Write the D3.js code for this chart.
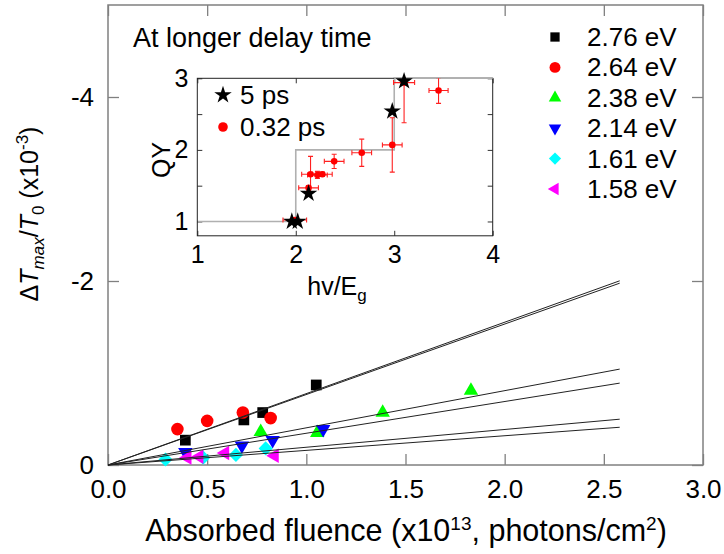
<!DOCTYPE html>
<html><head><meta charset="utf-8">
<script src="https://cdn.jsdelivr.net/npm/d3@7"></script>
<style>
body{margin:0;background:#fff}
svg{display:block}
text{font-family:"Liberation Sans",Arial,Helvetica,sans-serif;fill:#000}
</style>
</head><body>
<svg id="c" width="724" height="554"></svg>
<script>
// ---------- main chart data ----------
const seriesLabels = ["2.76 eV","2.64 eV","2.38 eV","2.14 eV","1.61 eV","1.58 eV"];
const fluence276 = [0.39, 0.685, 0.78, 1.05];
const signal276  = [-0.27, -0.49, -0.57, -0.87];
const fluence264 = [0.35, 0.50, 0.68, 0.82];
const signal264  = [-0.39, -0.48, -0.57, -0.51];
const fluence238 = [0.77, 1.055, 1.385, 1.83];
const signal238  = [-0.36, -0.35, -0.57, -0.81];
const fluence214 = [0.39, 0.675, 0.83, 1.085];
const signal214  = [-0.14, -0.21, -0.27, -0.39];
const fluence161 = [0.29, 0.48, 0.645, 0.795];
const signal161  = [-0.06, -0.08, -0.11, -0.18];
const fluence158 = [0.40, 0.46, 0.59, 0.84];
const signal158  = [-0.08, -0.09, -0.13, -0.10];
const fitSlopes = [-0.776, -0.766, -0.404, -0.345, -0.193, -0.159];
const fitFluenceMax = 2.58;
const xTicks = [0, 0.5, 1, 1.5, 2, 2.5, 3];
const yTicks = [0, -2, -4];

// ---------- inset data ----------
const stepRatio = [1, 2, 2, 3, 3, 4];
const stepQY    = [1, 1, 2, 2, 3, 3];
const ratio5ps  = [1.96, 2.02, 2.13, 2.98, 3.10];
const qy5ps     = [1.00, 1.00, 1.39, 2.54, 2.96];
const ratio032    = [1.99, 2.13, 2.15, 2.22, 2.27, 2.39, 2.67, 2.98, 3.10, 3.45];
const qy032       = [1.02, 1.47, 1.66, 1.65, 1.66, 1.84, 1.96, 2.07, 2.94, 2.83];
const ratioErr032 = [0.12, 0.10, 0.09, 0.10, 0.10, 0.10, 0.10, 0.10, 0.107, 0.097];
const qyErr032    = [0.02, 0.03, 0.25, 0.05, 0.03, 0.10, 0.19, 0.38, 0.56, 0.18];
const insetXTicks = [1, 2, 3, 4];
const insetYTicks = [1, 2, 3];
const insetYMinor = [1, 1.5, 2, 2.5, 3];

// ---------- styles ----------
const seriesColors = ["#000000", "#ff0000", "#00ff00", "#0000ff", "#00ffff", "#ff00ff"];
const FS = 26;

const svg = d3.select("#c");
const x = d3.scaleLinear([0, 3], [108, 703]);
const y = d3.scaleLinear([0, -5], [465, 5]);

const seriesX = [fluence276, fluence264, fluence238, fluence214, fluence161, fluence158];
const seriesY = [signal276, signal264, signal238, signal214, signal161, signal158];

const sym = [
  {type: d3.symbolSquare, size: 115, rot: 0},
  {type: d3.symbolCircle, size: 125, rot: 0},
  {type: d3.symbolTriangle, size: 90, rot: 0},
  {type: d3.symbolTriangle, size: 90, rot: 180},
  {type: d3.symbolSquare, size: 100, rot: 45},
  {type: d3.symbolTriangle, size: 90, rot: -90}
];

const frameColor = "#808080";
function styleAxis(g){
  g.select(".domain").remove();
  g.selectAll(".tick line").attr("stroke", frameColor).attr("stroke-width", 1.3);
  g.selectAll(".tick text").attr("font-size", FS).attr("fill", "#000")
    .attr("font-family", '"Liberation Sans",Arial,sans-serif');
}
svg.append("g").attr("transform", "translate(0,465)")
  .call(d3.axisBottom(x).tickValues(xTicks).tickSize(-11).tickPadding(15).tickFormat(d3.format(".1f")))
  .call(styleAxis);
svg.append("g").attr("transform", "translate(0,5)")
  .call(d3.axisTop(x).tickValues(xTicks).tickSize(-11).tickFormat(""))
  .call(styleAxis);
svg.append("g").attr("transform", "translate(108,0)")
  .call(d3.axisLeft(y).tickValues(yTicks).tickSize(-11).tickPadding(14).tickFormat(d => String(d)))
  .call(styleAxis);
svg.append("g").attr("transform", "translate(703,0)")
  .call(d3.axisRight(y).tickValues(yTicks).tickSize(-11).tickFormat(""))
  .call(styleAxis);

svg.append("rect").attr("x", x(0)).attr("y", y(-5)).attr("width", x(3) - x(0)).attr("height", y(0) - y(-5))
  .attr("fill", "none").attr("stroke", frameColor).attr("stroke-width", 1.5);

seriesX.forEach((xs, i) => {
  const s = sym[i];
  const gen = d3.symbol().type(s.type).size(s.size);
  svg.append("g").selectAll("path").data(xs.map((v, j) => [v, seriesY[i][j]])).join("path")
    .attr("d", gen)
    .attr("transform", d => `translate(${x(d[0])},${y(d[1])}) rotate(${s.rot})`)
    .attr("fill", seriesColors[i]);
});

svg.append("g").selectAll("line").data(fitSlopes).join("line")
  .attr("x1", x(0)).attr("y1", y(0))
  .attr("x2", x(fitFluenceMax)).attr("y2", d => y(d * fitFluenceMax))
  .attr("stroke", "#222").attr("stroke-width", 1);

seriesLabels.forEach((lab, i) => {
  const yy = 37 + i * 30.4;
  const s = sym[i];
  svg.append("path").attr("d", d3.symbol().type(s.type).size(s.size * 0.75)())
    .attr("transform", `translate(555,${yy}) rotate(${s.rot})`).attr("fill", seriesColors[i]);
  svg.append("text").attr("x", 587).attr("y", yy + 9).attr("font-size", FS).text(lab);
});

const XFS = 30.5;
const xt = svg.append("text").attr("x", 406).attr("y", 541).attr("text-anchor", "middle").attr("font-size", XFS);
xt.append("tspan").text("Absorbed fluence (x10");
xt.append("tspan").attr("dy", -11).attr("font-size", 19).text("13");
xt.append("tspan").attr("dy", 11).text(", photons/cm");
xt.append("tspan").attr("dy", -11).attr("font-size", 19).text("2");
xt.append("tspan").attr("dy", 11).text(")");

const yt = svg.append("text").attr("transform", "translate(38,214) rotate(-90)")
  .attr("text-anchor", "middle").attr("font-size", 25);
yt.append("tspan").text("Δ");
yt.append("tspan").attr("font-style", "italic").text("T");
yt.append("tspan").attr("font-style", "italic").attr("font-size", 17).attr("dy", 6).text("max");
yt.append("tspan").attr("dy", -6).text("/");
yt.append("tspan").attr("font-style", "italic").text("T");
yt.append("tspan").attr("font-size", 17).attr("dy", 6).text("0");
yt.append("tspan").attr("dy", -6).text(" (x10");
yt.append("tspan").attr("font-size", 17).attr("dy", -10).text("-3");
yt.append("tspan").attr("dy", 10).text(")");

svg.append("text").attr("x", 133).attr("y", 47).attr("font-size", 27).text("At longer delay time");

// ---------- inset ----------
const xi = d3.scaleLinear([1, 4], [197.3, 492.7]);
const yi = d3.scaleLinear([0.8, 3], [235.8, 78.3]);
const ins = svg.append("g");
ins.append("rect").attr("x", xi(1)).attr("y", yi(3)).attr("width", xi(4) - xi(1)).attr("height", yi(0.8) - yi(3))
  .attr("fill", "#fff");
ins.append("clipPath").attr("id", "ic").append("rect")
  .attr("x", xi(1)).attr("y", yi(3)).attr("width", xi(4) - xi(1)).attr("height", yi(0.8) - yi(3));

function styleInset(g){
  g.select(".domain").remove();
  g.selectAll(".tick line").attr("stroke", "#333");
  g.selectAll(".tick text").attr("font-size", 25).attr("fill", "#000")
    .attr("font-family", '"Liberation Sans",Arial,sans-serif');
}
ins.append("g").attr("transform", `translate(0,${yi(0.8)})`)
  .call(d3.axisBottom(xi).tickValues(insetXTicks).tickSize(-5).tickPadding(9).tickFormat(d3.format("d")))
  .call(styleInset);
ins.append("g").attr("transform", `translate(0,${yi(3)})`)
  .call(d3.axisTop(xi).tickValues(insetXTicks).tickSize(-5).tickFormat(""))
  .call(styleInset);
ins.append("g").attr("transform", `translate(${xi(1)},0)`)
  .call(d3.axisLeft(yi).tickValues(insetYMinor).tickSize(-5).tickPadding(9)
    .tickFormat(d => insetYTicks.includes(d) ? d3.format("d")(d) : ""))
  .call(styleInset);
ins.append("g").attr("transform", `translate(${xi(4)},0)`)
  .call(d3.axisRight(yi).tickValues(insetYMinor).tickSize(-5).tickFormat(""))
  .call(styleInset);

ins.append("path").datum(stepRatio.map((v, i) => [v, stepQY[i]]))
  .attr("d", d3.line().x(d => xi(d[0])).y(d => yi(d[1])))
  .attr("fill", "none").attr("stroke", "#b0b0b0").attr("stroke-width", 1.6);

ins.append("rect").attr("x", xi(1)).attr("y", yi(3)).attr("width", xi(4) - xi(1)).attr("height", yi(0.8) - yi(3))
  .attr("fill", "none").attr("stroke", "#222").attr("stroke-width", 1);
ins.append("line").attr("x1", xi(3)).attr("x2", xi(4)).attr("y1", yi(3)).attr("y2", yi(3))
  .attr("stroke", "#b0b0b0").attr("stroke-width", 1.6);

const eb = ins.append("g").attr("clip-path", "url(#ic)").attr("stroke", "#ff2020").attr("stroke-width", 1.1);
const pts032 = ratio032.map((v, i) => ({x: v, y: qy032[i], ex: ratioErr032[i], ey: qyErr032[i]}));
pts032.forEach(p => {
  eb.append("line").attr("x1", xi(p.x - p.ex)).attr("x2", xi(p.x + p.ex)).attr("y1", yi(p.y)).attr("y2", yi(p.y));
  eb.append("line").attr("x1", xi(p.x - p.ex)).attr("x2", xi(p.x - p.ex)).attr("y1", yi(p.y) - 2.5).attr("y2", yi(p.y) + 2.5);
  eb.append("line").attr("x1", xi(p.x + p.ex)).attr("x2", xi(p.x + p.ex)).attr("y1", yi(p.y) - 2.5).attr("y2", yi(p.y) + 2.5);
  eb.append("line").attr("x1", xi(p.x)).attr("x2", xi(p.x)).attr("y1", yi(p.y - p.ey)).attr("y2", yi(p.y + p.ey));
  eb.append("line").attr("x1", xi(p.x) - 2.5).attr("x2", xi(p.x) + 2.5).attr("y1", yi(p.y - p.ey)).attr("y2", yi(p.y - p.ey));
  eb.append("line").attr("x1", xi(p.x) - 2.5).attr("x2", xi(p.x) + 2.5).attr("y1", yi(p.y + p.ey)).attr("y2", yi(p.y + p.ey));
});
ins.append("g").selectAll("circle").data(pts032).join("circle")
  .attr("cx", d => xi(d.x)).attr("cy", d => yi(d.y)).attr("r", 3.3).attr("fill", "#ff0000");

const starGen = d3.symbol().type(d3.symbolStar).size(95);
ins.append("g").selectAll("path").data(ratio5ps.map((v, i) => [v, qy5ps[i]])).join("path")
  .attr("d", starGen).attr("transform", d => `translate(${xi(d[0])},${yi(d[1])})`).attr("fill", "#000");

ins.append("path").attr("d", starGen).attr("transform", "translate(223,95)").attr("fill", "#000");
ins.append("text").attr("x", 240).attr("y", 104).attr("font-size", FS).text("5 ps");
ins.append("circle").attr("cx", 223).attr("cy", 127).attr("r", 4.8).attr("fill", "#ff0000");
ins.append("text").attr("x", 240).attr("y", 136).attr("font-size", FS).text("0.32 ps");

ins.append("text").attr("transform", "translate(170,160) rotate(-90)").attr("text-anchor", "middle")
  .attr("font-size", 25).text("QY");
const ht = ins.append("text").attr("x", 337).attr("y", 295).attr("text-anchor", "middle").attr("font-size", 25);
ht.append("tspan").text("hv/E");
ht.append("tspan").attr("font-size", 17).attr("dy", 6).text("g");
</script>
</body></html>
